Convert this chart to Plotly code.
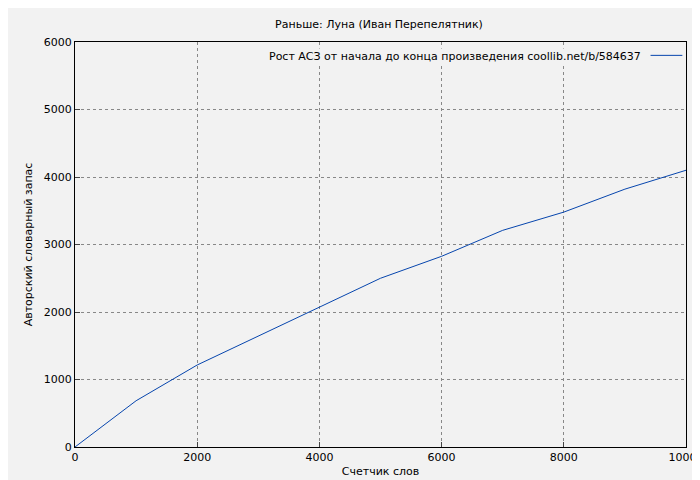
import plotly.graph_objects as go

words = [0, 1000, 2000, 3000, 4000, 5000, 6000, 7000, 8000, 9000, 10000]
vocab = [0, 685, 1215, 1645, 2070, 2500, 2825, 3210, 3480, 3820, 4100]
title = "Раньше: Луна (Иван Перепелятник)"
series_name = "Рост АСЗ от начала до конца произведения coollib.net/b/584637"

fig = go.Figure()
fig.add_trace(go.Scatter(x=words, y=vocab, mode="lines", line=dict(color="#0645ad", width=1),
                         name=series_name, showlegend=False))
fig.update_layout(
    width=700, height=480,
    paper_bgcolor="#f2f2f2", plot_bgcolor="#f2f2f2",
    font=dict(family="DejaVu Sans", size=11, color="black"),
    margin=dict(l=67, r=22, t=34, b=41, autoexpand=False),
    title=dict(text=title, x=0.53, xanchor="center", y=0.975, font=dict(size=11)),
)
axis = dict(showline=True, linecolor="black", mirror=True, ticks="inside", ticklen=5,
            showgrid=True, gridcolor="#888", griddash="dot", gridwidth=1, zeroline=False,
            tickformat="d", automargin=False, tickfont=dict(size=11))
fig.update_xaxes(range=[0, 10000], dtick=2000,
                 title=dict(text="Счетчик слов", standoff=4, font=dict(size=11)), **axis)
fig.update_yaxes(range=[0, 6000], dtick=1000,
                 title=dict(text="Авторский словарный запас", standoff=8, font=dict(size=11)), **axis)
fig.add_annotation(xref="paper", yref="paper", x=0.93, y=0.985, xanchor="right", yanchor="top",
                   text=series_name, showarrow=False, bgcolor="#f2f2f2")
fig.add_shape(type="line", xref="paper", yref="paper", x0=0.942, x1=0.994, y0=0.967, y1=0.967,
              line=dict(color="#0645ad", width=1))
fig.write_html("out.html")
